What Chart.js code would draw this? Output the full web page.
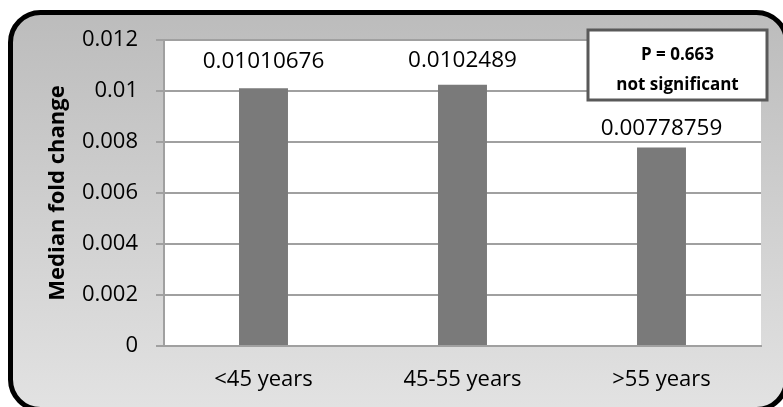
<!DOCTYPE html>
<html>
<head>
<meta charset="utf-8">
<script src="https://cdn.jsdelivr.net/npm/chart.js@4/dist/chart.umd.min.js"></script>
<style>
  html, body { margin: 0; padding: 0; background: #ffffff; }
  canvas { display: block; }
</style>
</head>
<body>
<canvas id="c" width="783" height="407"></canvas>
<script>
// Age groups and median fold change per group
const categories = ['<45 years', '45-55 years', '>55 years'];
const medianFoldChange = [0.01010676, 0.0102489, 0.00778759];
const valueLabels = ['0.01010676', '0.0102489', '0.00778759'];
const yTicks = [0, 0.002, 0.004, 0.006, 0.008, 0.01, 0.012];
const annotationLines = ['P = 0.663', 'not significant'];

const FONT = "'Open Sans', sans-serif";
const labelLift = [27, 24, 19];

// Rounded grey panel behind everything, white plot area
const panelPlugin = {
  id: 'panel',
  beforeDraw(chart) {
    const ctx = chart.ctx;
    const a = chart.chartArea;
    ctx.save();
    const g = ctx.createLinearGradient(0, 12, 0, 407);
    g.addColorStop(0, '#bcbcbc');
    g.addColorStop(1, '#e2e2e2');
    ctx.beginPath();
    ctx.roundRect(10.5, 12.5, 776, 397, 30);
    ctx.fillStyle = g;
    ctx.fill();
    ctx.lineWidth = 5;
    ctx.strokeStyle = '#000000';
    ctx.stroke();
    ctx.fillStyle = '#ffffff';
    ctx.fillRect(a.left, a.top, a.right - a.left, a.bottom - a.top);
    ctx.restore();
  }
};

// Value printed above each bar
const valueLabelPlugin = {
  id: 'valueLabels',
  afterDatasetsDraw(chart) {
    const ctx = chart.ctx;
    const meta = chart.getDatasetMeta(0);
    ctx.save();
    ctx.font = "22.5px " + FONT;
    ctx.fillStyle = '#000000';
    ctx.textAlign = 'center';
    ctx.textBaseline = 'middle';
    meta.data.forEach((bar, i) => {
      ctx.fillText(valueLabels[i], bar.x, bar.y - labelLift[i]);
    });
    ctx.restore();
  }
};

// Significance box in the upper right corner
const statBoxPlugin = {
  id: 'statBox',
  afterDraw(chart) {
    const ctx = chart.ctx;
    const a = chart.chartArea;
    const w = 179, h = 70;
    const x = a.right + 6 - w, y = a.top - 10;
    ctx.save();
    ctx.fillStyle = '#ffffff';
    ctx.fillRect(x, y, w, h);
    ctx.lineWidth = 3;
    ctx.strokeStyle = '#595959';
    ctx.strokeRect(x, y, w, h);
    ctx.fillStyle = '#000000';
    ctx.font = "bold 17px " + FONT;
    ctx.textAlign = 'center';
    ctx.textBaseline = 'middle';
    ctx.fillText(annotationLines[0], x + w / 2, y + 25);
    ctx.fillText(annotationLines[1], x + w / 2, y + 55);
    ctx.restore();
  }
};

new Chart(document.getElementById('c'), {
  type: 'bar',
  data: {
    labels: categories,
    datasets: [{
      data: medianFoldChange,
      backgroundColor: '#7a7a7a',
      borderWidth: 0,
      barPercentage: 0.246,
      categoryPercentage: 1.0
    }]
  },
  options: {
    responsive: false,
    devicePixelRatio: 1,
    animation: false,
    layout: { padding: { left: 0, right: 22, top: 40, bottom: 0 } },
    plugins: {
      legend: { display: false },
      tooltip: { enabled: false }
    },
    scales: {
      x: {
        grid: { display: false, drawTicks: false },
        border: { display: true, color: '#a0a0a0', width: 2 },
        ticks: { color: '#000000', font: { family: FONT, size: 22 }, padding: 21 },
        afterFit(scale) { scale.height = 61; }
      },
      y: {
        min: 0,
        max: 0.012,
        afterBuildTicks(scale) { scale.ticks = yTicks.map(v => ({ value: v })); },
        grid: { color: '#a0a0a0', lineWidth: 2, tickLength: 8, drawTicks: true },
        border: { display: true, color: '#a0a0a0', width: 2 },
        ticks: {
          color: '#000000',
          font: { family: FONT, size: 22 },
          padding: 18,
          callback: v => String(v)
        },
        title: {
          display: true,
          text: 'Median fold change',
          color: '#000000',
          font: { family: FONT, size: 22, weight: 'bold' },
          padding: { top: 45, bottom: 0 }
        },
        afterFit(scale) { scale.width = 164; }
      }
    }
  },
  plugins: [panelPlugin, valueLabelPlugin, statBoxPlugin]
});
</script>
</body>
</html>
